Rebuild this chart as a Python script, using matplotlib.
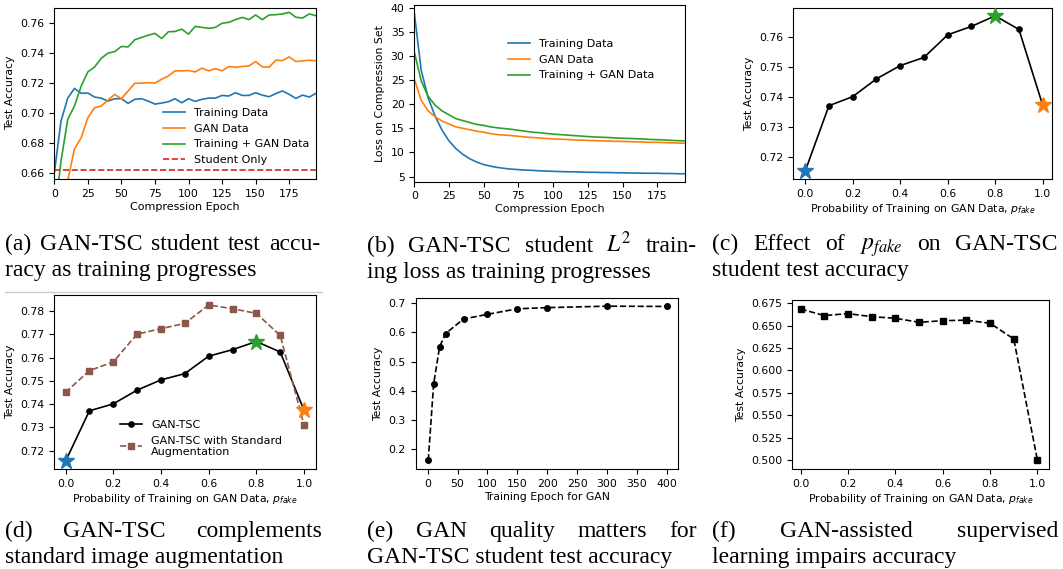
import matplotlib
matplotlib.use('Agg')
import matplotlib.pyplot as plt
from matplotlib.ticker import MultipleLocator, FormatStrFormatter
from matplotlib.lines import Line2D
import numpy as np

# ---------------- data ----------------
epochs = np.arange(0, 200, 5)

acc_train = [0.660, 0.6946, 0.7100, 0.7165, 0.7132, 0.7134, 0.7107, 0.7100, 0.7080, 0.7096,
             0.7096, 0.7065, 0.7092, 0.7096, 0.7080, 0.7060, 0.7067, 0.7076, 0.7096, 0.7069,
             0.7096, 0.7078, 0.7092, 0.7100, 0.7100, 0.7118, 0.7114, 0.7136, 0.7118, 0.7118,
             0.7136, 0.7120, 0.7109, 0.7130, 0.7148, 0.7125, 0.7098, 0.7120, 0.7107, 0.7132]
acc_gan = [0.620, 0.640, 0.655, 0.6760, 0.6835, 0.6969, 0.7036, 0.7047, 0.7087, 0.7125,
           0.7096, 0.7148, 0.7199, 0.7200, 0.7203, 0.7200, 0.7226, 0.7248, 0.7282, 0.7282,
           0.7284, 0.7275, 0.7300, 0.7282, 0.7297, 0.7282, 0.7311, 0.7306, 0.7311, 0.7315,
           0.7344, 0.7309, 0.7306, 0.7353, 0.7351, 0.7375, 0.7344, 0.7349, 0.7353, 0.7349]
acc_both = [0.630, 0.6680, 0.6958, 0.7047, 0.7180, 0.7275, 0.7308, 0.7366, 0.7400, 0.7411,
            0.7445, 0.7442, 0.7490, 0.7505, 0.7520, 0.7532, 0.7498, 0.7543, 0.7545, 0.7560,
            0.7527, 0.7579, 0.7572, 0.7566, 0.7572, 0.7600, 0.7606, 0.7624, 0.7639, 0.7624,
            0.7655, 0.7624, 0.7655, 0.7657, 0.7662, 0.7673, 0.7640, 0.7635, 0.7662, 0.7650]
student_only = 0.6622

loss_train = [38.9, 27.0, 21.3, 17.5, 14.6, 12.4, 10.8, 9.6, 8.7, 8.0,
              7.5, 7.15, 6.9, 6.7, 6.55, 6.45, 6.35, 6.3, 6.2, 6.15,
              6.1, 6.05, 6.0, 6.0, 5.95, 5.9, 5.9, 5.85, 5.85, 5.8,
              5.8, 5.75, 5.75, 5.7, 5.7, 5.7, 5.65, 5.65, 5.6, 5.6]
loss_gan = [25.2, 20.8, 18.6, 17.4, 16.5, 15.9, 15.3, 15.0, 14.7, 14.4,
            14.2, 13.9, 13.7, 13.6, 13.5, 13.35, 13.2, 13.1, 13.0, 12.9,
            12.8, 12.75, 12.7, 12.6, 12.55, 12.5, 12.45, 12.4, 12.35, 12.3,
            12.3, 12.25, 12.2, 12.15, 12.1, 12.1, 12.05, 12.0, 11.95, 11.9]
loss_both = [30.8, 24.8, 21.6, 19.8, 18.6, 17.8, 17.0, 16.6, 16.2, 15.8,
             15.6, 15.3, 15.1, 14.95, 14.8, 14.6, 14.4, 14.2, 14.1, 13.95,
             13.8, 13.7, 13.6, 13.5, 13.4, 13.3, 13.2, 13.15, 13.1, 13.0,
             12.95, 12.9, 12.85, 12.8, 12.7, 12.65, 12.6, 12.5, 12.45, 12.4]

p_fake = [0.0, 0.1, 0.2, 0.3, 0.4, 0.5, 0.6, 0.7, 0.8, 0.9, 1.0]
acc_tsc = [0.7154, 0.7371, 0.7401, 0.7460, 0.7504, 0.7531, 0.7606, 0.7634, 0.7669, 0.7624, 0.7373]
acc_tsc_aug = [0.7450, 0.7544, 0.7581, 0.7701, 0.7724, 0.7747, 0.7826, 0.7810, 0.7790, 0.7695, 0.7309]

gan_epochs = [1, 10, 20, 30, 60, 100, 150, 200, 300, 400]
acc_gan_epoch = [0.161, 0.423, 0.551, 0.596, 0.646, 0.662, 0.681, 0.685, 0.690, 0.689]

acc_supervised = [0.6687, 0.6613, 0.6635, 0.6601, 0.6583, 0.6538, 0.6556, 0.6562, 0.6527, 0.6352, 0.4996]

# ---------------- layout ----------------
W, H = 1063, 569
fig = plt.figure(figsize=(W / 100, H / 100), dpi=100)
plt.rcParams['font.size'] = 7.8
plt.rcParams['axes.linewidth'] = 0.8

C_BLUE, C_ORANGE, C_GREEN, C_RED, C_BROWN = '#1f77b4', '#ff7f0e', '#2ca02c', '#d62728', '#8c564b'
FS = 7.8
LFS = 8.0
PLAB = 'Probability of Training on GAN Data, $p_{fake}$'


def add_ax(x0, y0, x1, y1):
    ax = fig.add_axes([x0 / W, 1 - y1 / H, (x1 - x0) / W, (y1 - y0) / H])
    ax.tick_params(labelsize=FS, length=3.5, width=0.8)
    return ax


# (a)
ax = add_ax(54.3, 7.5, 316, 179)
ax.plot(epochs, acc_train, color=C_BLUE, lw=1.2, label='Training Data')
ax.plot(epochs, acc_gan, color=C_ORANGE, lw=1.2, label='GAN Data')
ax.plot(epochs, acc_both, color=C_GREEN, lw=1.2, label='Training + GAN Data')
ax.axhline(student_only, color=C_RED, ls='--', lw=1.2, label='Student Only')
ax.set_xlim(0, 195)
ax.set_ylim(0.656, 0.7705)
ax.xaxis.set_major_locator(MultipleLocator(25))
ax.yaxis.set_major_locator(MultipleLocator(0.02))
ax.yaxis.set_major_formatter(FormatStrFormatter('%.2f'))
ax.set_xlabel('Compression Epoch', fontsize=LFS, labelpad=2)
ax.set_ylabel('Test Accuracy', fontsize=FS)
ax.legend(loc='center', bbox_to_anchor=(0.694, 0.247), frameon=False, fontsize=LFS,
          labelspacing=0.5, handletextpad=0.8)

# (b)
ax = add_ax(414.3, 4.7, 685, 181.7)
ax.plot(epochs, loss_train, color=C_BLUE, lw=1.2, label='Training Data')
ax.plot(epochs, loss_gan, color=C_ORANGE, lw=1.2, label='GAN Data')
ax.plot(epochs, loss_both, color=C_GREEN, lw=1.2, label='Training + GAN Data')
ax.set_xlim(0, 195)
ax.set_ylim(3.95, 40.6)
ax.xaxis.set_major_locator(MultipleLocator(25))
ax.yaxis.set_major_locator(MultipleLocator(5))
ax.set_xlabel('Compression Epoch', fontsize=LFS, labelpad=2)
ax.set_ylabel('Loss on Compression Set', fontsize=FS)
ax.legend(loc='center', bbox_to_anchor=(0.616, 0.688), frameon=False, fontsize=LFS,
          labelspacing=0.5, handletextpad=0.8)

# (c)
ax = add_ax(793.3, 8.3, 1051.7, 179)
ax.plot(p_fake, acc_tsc, color='black', lw=1.2, marker='o', ms=3.8)
ax.plot(p_fake[0], acc_tsc[0], marker='*', ms=12, color=C_BLUE, ls='none', zorder=5)
ax.plot(p_fake[8], acc_tsc[8], marker='*', ms=12, color=C_GREEN, ls='none', zorder=5)
ax.plot(p_fake[10], acc_tsc[10], marker='*', ms=12, color=C_ORANGE, ls='none', zorder=5)
ax.set_xlim(-0.05, 1.038)
ax.set_ylim(0.7128, 0.7694)
ax.xaxis.set_major_locator(MultipleLocator(0.2))
ax.yaxis.set_major_locator(MultipleLocator(0.01))
ax.xaxis.set_major_formatter(FormatStrFormatter('%.1f'))
ax.yaxis.set_major_formatter(FormatStrFormatter('%.2f'))
ax.set_xlabel(PLAB, fontsize=FS, labelpad=2)
ax.set_ylabel('Test Accuracy', fontsize=FS)

# (d)
ax = add_ax(54.3, 295, 316, 469)
ax.plot(p_fake, acc_tsc, color='black', lw=1.2, marker='o', ms=3.8, label='GAN-TSC')
ax.plot(p_fake, acc_tsc_aug, color=C_BROWN, lw=1.2, ls='--', marker='s', ms=3.8,
        label='GAN-TSC with Standard\nAugmentation')
ax.plot(p_fake[0], acc_tsc[0], marker='*', ms=12, color=C_BLUE, ls='none', zorder=5)
ax.plot(p_fake[8], acc_tsc[8], marker='*', ms=12, color=C_GREEN, ls='none', zorder=5)
ax.plot(p_fake[10], acc_tsc[10], marker='*', ms=12, color=C_ORANGE, ls='none', zorder=5)
ax.set_xlim(-0.047, 1.05)
ax.set_ylim(0.7121, 0.7869)
ax.xaxis.set_major_locator(MultipleLocator(0.2))
ax.yaxis.set_major_locator(MultipleLocator(0.01))
ax.xaxis.set_major_formatter(FormatStrFormatter('%.1f'))
ax.yaxis.set_major_formatter(FormatStrFormatter('%.2f'))
ax.set_xlabel(PLAB, fontsize=FS, labelpad=2)
ax.set_ylabel('Test Accuracy', fontsize=FS)
ax.legend(loc='center', bbox_to_anchor=(0.561, 0.175), frameon=False, fontsize=LFS,
          labelspacing=0.5, handletextpad=0.8)

# (e)
ax = add_ax(415.7, 298.3, 678.3, 469)
ax.plot(gan_epochs, acc_gan_epoch, color='black', lw=1.2, ls='--', marker='o', ms=4)
ax.set_xlim(-20, 419)
ax.set_ylim(0.131, 0.717)
ax.xaxis.set_major_locator(MultipleLocator(50))
ax.yaxis.set_major_locator(MultipleLocator(0.1))
ax.yaxis.set_major_formatter(FormatStrFormatter('%.1f'))
ax.set_xlabel('Training Epoch for GAN', fontsize=FS, labelpad=2)
ax.set_ylabel('Test Accuracy', fontsize=FS)

# (f)
ax = add_ax(792.3, 300, 1049.3, 469)
ax.plot(p_fake, acc_supervised, color='black', lw=1.2, ls='--', marker='s', ms=4)
ax.set_xlim(-0.035, 1.05)
ax.set_ylim(0.490, 0.6787)
ax.xaxis.set_major_locator(MultipleLocator(0.2))
ax.yaxis.set_major_locator(MultipleLocator(0.025))
ax.xaxis.set_major_formatter(FormatStrFormatter('%.1f'))
ax.yaxis.set_major_formatter(FormatStrFormatter('%.3f'))
ax.set_xlabel(PLAB, fontsize=FS, labelpad=2)
ax.set_ylabel('Test Accuracy', fontsize=FS)

# ---------------- captions ----------------
CFS = 17
CFAM = 'Liberation Serif'
renderer = fig.canvas.get_renderer()


def cap_line(text, x0, y, x1=None):
    if x1 is None:
        fig.text(x0 / W, 1 - y / H, text, fontsize=CFS, family=CFAM, va='baseline',
                 ha='left', math_fontfamily='stix')
        return
    words = text.split(' ')
    ts = [fig.text(0, 0, w, fontsize=CFS, family=CFAM, va='baseline', ha='left',
                   math_fontfamily='stix') for w in words]
    widths = [t.get_window_extent(renderer).width for t in ts]
    gap = (x1 - x0 - sum(widths)) / (len(words) - 1)
    x = x0
    for t, w in zip(ts, widths):
        t.set_position((x / W, 1 - y / H))
        x += w + gap


cap_line('(a) GAN-TSC student test accu-', 5, 250, 320)
cap_line('racy as training progresses', 5, 276)
cap_line('(b) GAN-TSC student $L^2$ train-', 367, 252, 697)
cap_line('ing loss as training progresses', 367, 278)
cap_line('(c) Effect of $p_{fake}$ on GAN-TSC', 712, 250, 1058)
cap_line('student test accuracy', 712, 276)
cap_line('(d) GAN-TSC complements', 5, 537, 322)
cap_line('standard image augmentation', 5, 563)
cap_line('(e) GAN quality matters for', 367, 537, 697)
cap_line('GAN-TSC student test accuracy', 367, 563)
cap_line('(f) GAN-assisted supervised', 712, 537, 1058)
cap_line('learning impairs accuracy', 712, 563)

fig.add_artist(Line2D([5 / W, 322 / W], [1 - 292 / H, 1 - 292 / H], color='#cccccc', lw=1))

fig.savefig('out.png', dpi=100)
